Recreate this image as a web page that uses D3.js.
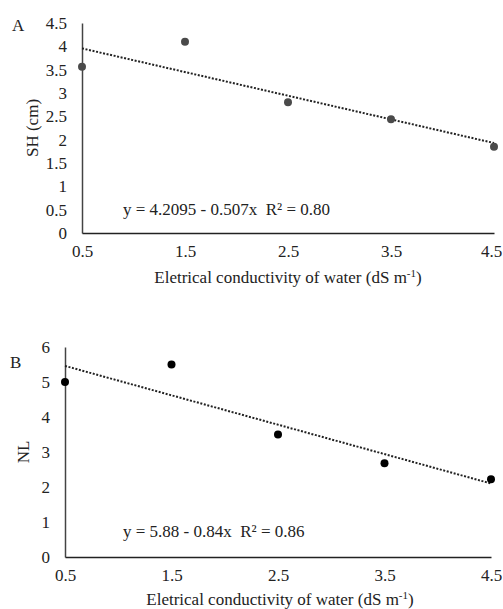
<!DOCTYPE html>
<html>
<head>
<meta charset="utf-8">
<script src="https://cdn.jsdelivr.net/npm/d3@7"></script>
<style>
    body { margin: 0; background: #fff; }
    text { font-family: "Liberation Serif", "Times New Roman", serif; fill: #222; }
</style>
</head>
<body>
<svg id="chart" width="503" height="609"></svg>
<script>
    'use strict';

    // data
    var conductivity = [0.5, 1.5, 2.5, 3.5, 4.5];
    var shValues = [3.56, 4.1, 2.8, 2.44, 1.85];
    var nlValues = [5.0, 5.5, 3.5, 2.68, 2.22];
    var xTicks = [0.5, 1.5, 2.5, 3.5, 4.5];
    var shTicks = [0, 0.5, 1, 1.5, 2, 2.5, 3, 3.5, 4, 4.5];
    var nlTicks = [0, 1, 2, 3, 4, 5, 6];

    var svg = d3.select("#chart");

    var panels = [
        {
            letter: "A", yLabel: "SH (cm)", values: shValues, ticks: shTicks, yMax: 4.5,
            fit: [4.2095, -0.507], eq: "y = 4.2095 - 0.507x  R² = 0.80",
            left: 82, right: 494, top: 23, bottom: 233, dot: "#4a4a4a",
            letterPos: [12, 31], yLabelX: 38, eqPos: [123, 215], titleY: 283, titleX: 288
        },
        {
            letter: "B", yLabel: "NL", values: nlValues, ticks: nlTicks, yMax: 6,
            fit: [5.88, -0.84], eq: "y = 5.88 - 0.84x  R² = 0.86",
            left: 65, right: 491, top: 347, bottom: 557, dot: "#000",
            letterPos: [10, 368], yLabelX: 29, eqPos: [123, 537], titleY: 605, titleX: 280
        }
    ];

    panels.forEach(drawPanel);

    function drawPanel(p) {
        var x = d3.scaleLinear().domain([0.5, 4.5]).range([p.left, p.right]);
        var y = d3.scaleLinear().domain([0, p.yMax]).range([p.bottom, p.top]);
        var g = svg.append("g");

        // y axis
        var yAxis = g.append("g")
            .attr("transform", "translate(" + p.left + ",0)")
            .call(d3.axisLeft(y).tickValues(p.ticks).tickSize(0).tickPadding(15)
                .tickFormat(function (d) { return String(d); }));
        yAxis.select(".domain").attr("stroke", "#444").attr("stroke-width", 1.5);
        yAxis.selectAll("text")
            .style("font-size", "17px")
            .style("font-family", "Liberation Serif, serif")
            .attr("fill", "#222");

        // x axis
        var xAxis = g.append("g")
            .attr("transform", "translate(0," + p.bottom + ")")
            .call(d3.axisBottom(x).tickValues(xTicks).tickSize(0).tickPadding(12)
                .tickFormat(d3.format(".1f")));
        xAxis.select(".domain").attr("stroke", "#222").attr("stroke-width", 1.5);
        xAxis.selectAll("text")
            .style("font-size", "17px")
            .style("font-family", "Liberation Serif, serif")
            .attr("fill", "#222")
            .attr("dx", function (d) {
                // keep the last label inside the window
                var over = x(d) + 11 - 502;
                return over > 0 ? -over : 0;
            });

        // trend line
        var line = d3.line()
            .x(function (d) { return x(d); })
            .y(function (d) { return y(p.fit[0] + p.fit[1] * d); });
        g.append("path")
            .datum([0.5, 4.5])
            .attr("d", line)
            .attr("fill", "none")
            .attr("stroke", "#222")
            .attr("stroke-width", 2)
            .attr("stroke-dasharray", "2,1.6");

        // points
        g.selectAll("circle.pt")
            .data(conductivity)
            .enter()
            .append("circle")
            .attr("class", "pt")
            .attr("cx", function (d) { return x(d); })
            .attr("cy", function (d, i) { return y(p.values[i]); })
            .attr("r", 4)
            .attr("fill", p.dot);

        // labels
        g.append("text")
            .attr("x", p.letterPos[0])
            .attr("y", p.letterPos[1])
            .style("font-size", "17px")
            .text(p.letter);

        g.append("text")
            .attr("transform", "translate(" + p.yLabelX + "," + ((p.top + p.bottom) / 2) + ") rotate(-90)")
            .attr("text-anchor", "middle")
            .style("font-size", "17px")
            .text(p.yLabel);

        g.append("text")
            .attr("x", p.eqPos[0])
            .attr("y", p.eqPos[1])
            .style("font-size", "17px")
            .attr("xml:space", "preserve")
            .style("white-space", "pre")
            .text(p.eq);

        var title = g.append("text")
            .attr("x", p.titleX)
            .attr("y", p.titleY)
            .attr("text-anchor", "middle")
            .style("font-size", "17px")
            .text("Eletrical  conductivity of water (dS m");
        title.append("tspan")
            .attr("dy", -6)
            .style("font-size", "11px")
            .text("-1");
        title.append("tspan")
            .attr("dy", 6)
            .text(")");
    }
</script>
</body>
</html>
